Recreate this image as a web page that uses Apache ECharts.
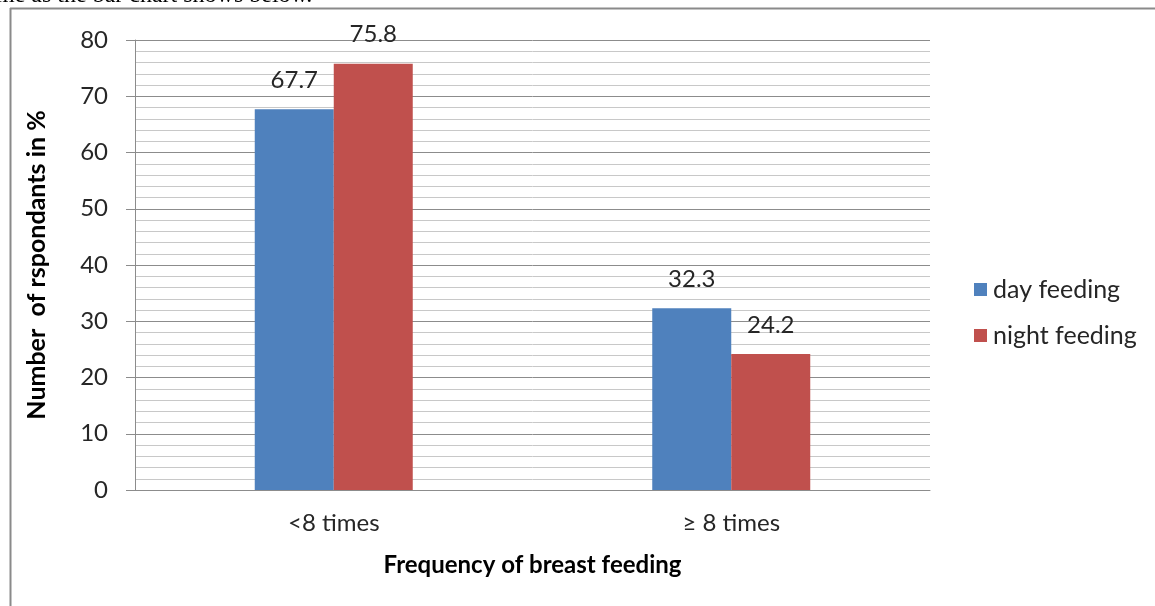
<!DOCTYPE html>
<html>
<head>
<meta charset="utf-8">
<script src="https://cdn.jsdelivr.net/npm/echarts@6/dist/echarts.min.js"></script>
<style>
html,body{margin:0;padding:0;background:#fff;}
#c{width:1155px;height:606px;}
</style>
</head>
<body>
<div id="c"></div>
<script>
const categories = ['<8 times', '\u2265 8 times'];
const dayFeeding = [67.7, 32.3];
const nightFeeding = [75.8, 24.2];
const seriesNames = ['day feeding', 'night feeding'];
const yMin = 0, yMax = 80, yStep = 10;

const font = 'Lato, "Open Sans", sans-serif';
const txt = '#262626';
const chart = echarts.init(document.getElementById('c'), null, {renderer: 'canvas'});
chart.setOption({
  animation: false,
  backgroundColor: '#fff',
  graphic: [
    {type: 'text', left: -4, top: -16, style: {text: 'me as the bar chart shows below.', font: '24px "Liberation Serif", serif', fill: '#000'}},
    {type: 'line', shape: {x1: 10, y1: 8.5, x2: 1155, y2: 8.5}, style: {stroke: '#8a8a8a', lineWidth: 2}},
    {type: 'line', shape: {x1: 10.5, y1: 8, x2: 10.5, y2: 606}, style: {stroke: '#8a8a8a', lineWidth: 2}}
  ],
  grid: {left: 135, right: 225, top: 40, bottom: 116},
  legend: {
    orient: 'vertical', left: 969, top: 272, itemWidth: 13, itemHeight: 13, itemGap: 21,
    icon: 'rect', data: seriesNames,
    textStyle: {fontFamily: font, fontSize: 25, color: txt, padding: [0, 0, 0, 1]}
  },
  xAxis: {
    type: 'category', data: categories,
    axisLine: {lineStyle: {color: '#8c8c8c', width: 1}},
    axisTick: {show: false},
    axisLabel: {fontFamily: font, fontSize: 24, color: txt, margin: 21},
    name: 'Frequency of breast feeding', nameLocation: 'middle', nameGap: 63,
    nameTextStyle: {fontFamily: font, fontSize: 24, fontWeight: 'bold', color: '#000'}
  },
  yAxis: {
    type: 'value', min: yMin, max: yMax, interval: yStep,
    axisLine: {show: true, lineStyle: {color: '#8c8c8c'}},
    axisTick: {show: true, length: 9, lineStyle: {color: '#8c8c8c'}},
    axisLabel: {fontFamily: font, fontSize: 24, color: txt, margin: 27},
    splitLine: {lineStyle: {color: '#8c8c8c', width: 1}},
    minorTick: {show: false, splitNumber: 5},
    minorSplitLine: {show: true, lineStyle: {color: '#c8c8c8', width: 1}},
    name: 'Number  of rspondants in %', nameLocation: 'middle', nameGap: 86,
    nameTextStyle: {fontFamily: font, fontSize: 25, fontWeight: 'bold', color: '#000'}
  },
  series: [
    {name: seriesNames[0], type: 'bar', data: dayFeeding, barWidth: 79, barGap: '0%',
     itemStyle: {color: '#4f81bd'},
     label: {show: true, position: 'top', distance: 17, fontFamily: font, fontSize: 24, color: txt}},
    {name: seriesNames[1], type: 'bar', data: nightFeeding, barWidth: 79, barGap: '0%',
     itemStyle: {color: '#c0504d'},
     label: {show: true, position: 'top', distance: 17, fontFamily: font, fontSize: 24, color: txt}}
  ]
});
</script>
</body>
</html>
